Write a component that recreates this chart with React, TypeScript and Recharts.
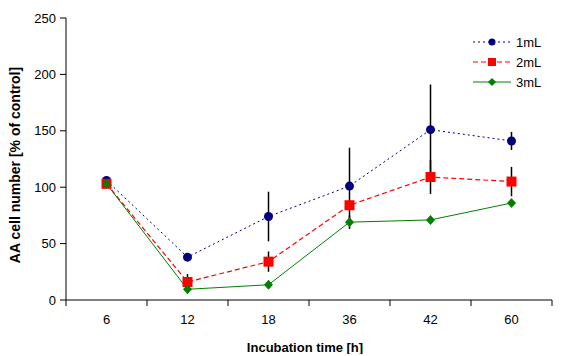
import React from 'react';
import { LineChart, Line, XAxis, YAxis, ErrorBar, Legend } from 'recharts';

const times = ['6', '12', '18', '36', '42', '60'];
const ml1 = [106, 38, 74, 101, 151, 141];
const ml1Err = [0, 0, 22, 34, 40, 8];
const ml2 = [103, 16, 34, 84, 109, 105];
const ml2Err = [0, 7, 9, 0, 15, 13];
const ml3 = [103, 9.5, 13.5, 69, 71, 86];
const ml3Err = [0, 0, 0, 6, 0, 0];
const yTicks = [0, 50, 100, 150, 200, 250];

const data = times.map((t, i) => ({
  time: t,
  v1: ml1[i],
  e1: ml1Err[i],
  v2: ml2[i],
  e2: ml2Err[i],
  v3: ml3[i],
  e3: ml3Err[i],
}));

const NAVY = '#000080';
const RED = '#FF0000';
const GREEN = '#008000';
const HALF_BAND = 40.5;
const font = '"Liberation Sans", Arial, sans-serif';

const Square = (props: any) => {
  const { cx, cy, index } = props;
  return <rect key={`s${index}`} x={cx - 5} y={cy - 5} width={10} height={10} fill={RED} />;
};

const Diamond = (props: any) => {
  const { cx, cy, index } = props;
  return (
    <polygon
      key={`d${index}`}
      points={`${cx},${cy - 5} ${cx + 4.5},${cy} ${cx},${cy + 5} ${cx - 4.5},${cy}`}
      fill={GREEN}
    />
  );
};

const XTick = (props: any) => {
  const { x, y, payload, index } = props;
  const last = index === times.length - 1;
  return (
    <g>
      <line x1={x - HALF_BAND} x2={x - HALF_BAND} y1={y - 6} y2={y} stroke="#000" />
      {last && <line x1={x + HALF_BAND} x2={x + HALF_BAND} y1={y - 6} y2={y} stroke="#000" />}
      <text x={x} y={y + 18} textAnchor="middle" fontSize={13} fontFamily={font} fill="#000">
        {payload.value}
      </text>
    </g>
  );
};

const XLabel = () => (
  <text x={297} y={344} textAnchor="middle" fontSize={13} fontWeight="bold" fontFamily={font} fill="#000">
    Incubation time [h]
  </text>
);

const YLabel = () => (
  <text
    x={7}
    y={157}
    transform="rotate(-90 7 157)"
    textAnchor="middle"
    dominantBaseline="central"
    fontSize={14}
    fontWeight="bold"
    fontFamily={font}
    fill="#000"
  >
    AA cell number [% of control]
  </text>
);

const LegendBox = () => {
  const rows = [
    { name: '1mL', color: NAVY, dash: '2 3', marker: 'circle' },
    { name: '2mL', color: RED, dash: '5 3', marker: 'square' },
    { name: '3mL', color: GREEN, dash: undefined, marker: 'diamond' },
  ];
  return (
    <svg width={80} height={60}>
      {rows.map((r, i) => {
        const cy = 10 + i * 20;
        return (
          <g key={r.name}>
            <line x1={0} x2={38} y1={cy} y2={cy} stroke={r.color} strokeDasharray={r.dash} />
            {r.marker === 'circle' && <circle cx={19} cy={cy} r={3.5} fill={r.color} />}
            {r.marker === 'square' && <rect x={15} y={cy - 4} width={8} height={8} fill={r.color} />}
            {r.marker === 'diamond' && (
              <polygon points={`19,${cy - 4} 23,${cy} 19,${cy + 4} 15,${cy}`} fill={r.color} />
            )}
            <text x={43} y={cy + 4.5} fontSize={13} fontFamily={font} fill="#000">
              {r.name}
            </text>
          </g>
        );
      })}
    </svg>
  );
};

export default function App() {
  return (
    <LineChart
      width={557}
      height={346}
      data={data}
      margin={{ top: 10, right: 13, bottom: 0, left: 0 }}
      style={{ fontFamily: font }}
    >
      <XAxis
        dataKey="time"
        padding={{ left: HALF_BAND, right: HALF_BAND }}
        height={54}
        tickLine={false}
        tickSize={6}
        tickMargin={0}
        tick={<XTick />}
        axisLine={{ stroke: '#000' }}
        interval={0}
        label={<XLabel />}
      />
      <XAxis
        xAxisId="top"
        dataKey="time"
        orientation="top"
        height={0}
        tick={false}
        tickLine={false}
        axisLine={{ stroke: '#808080' }}
      />
      <YAxis
        domain={[0, 250]}
        ticks={yTicks}
        width={58}
        tickSize={6}
        tickMargin={4}
        tick={{ fill: '#000', fontSize: 13 }}
        tickLine={{ stroke: '#000' }}
        axisLine={{ stroke: '#000' }}
        label={<YLabel />}
      />
      <YAxis
        yAxisId="right"
        orientation="right"
        domain={[0, 250]}
        width={0}
        tick={false}
        tickLine={false}
        axisLine={{ stroke: '#808080' }}
      />
      <Legend
        layout="horizontal"
        verticalAlign="middle"
        align="center"
        content={<LegendBox />}
        wrapperStyle={{ top: 24, left: 465, width: 80, height: 60 }}
      />
      <Line
        dataKey="v1"
        name="1mL"
        stroke={NAVY}
        strokeWidth={1}
        strokeDasharray="2 3"
        dot={{ r: 4.5, fill: NAVY, stroke: NAVY, strokeWidth: 0 }}
        activeDot={false}
        isAnimationActive={false}
      >
        <ErrorBar dataKey="e1" width={0} stroke="#000" strokeWidth={1.5} direction="y" />
      </Line>
      <Line
        dataKey="v2"
        name="2mL"
        stroke={RED}
        strokeWidth={1.2}
        strokeDasharray="5 3"
        dot={Square}
        activeDot={false}
        isAnimationActive={false}
      >
        <ErrorBar dataKey="e2" width={0} stroke="#000" strokeWidth={1.5} direction="y" />
      </Line>
      <Line
        dataKey="v3"
        name="3mL"
        stroke={GREEN}
        strokeWidth={1}
        dot={Diamond}
        activeDot={false}
        isAnimationActive={false}
      >
        <ErrorBar dataKey="e3" width={0} stroke="#000" strokeWidth={1.5} direction="y" />
      </Line>
    </LineChart>
  );
}
